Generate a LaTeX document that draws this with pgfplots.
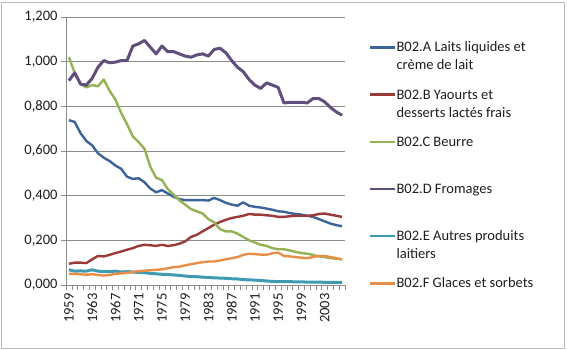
\documentclass[border=0pt]{standalone}
\usepackage{pgfplots}
\usepackage{pgfplotstable}
\pgfplotsset{compat=1.18}
\usepackage{fontspec}
\setmainfont{Carlito}
\definecolor{cA}{RGB}{59,100,152}
\definecolor{cB}{RGB}{155,58,56}
\definecolor{cC}{RGB}{148,178,84}
\definecolor{cD}{RGB}{96,78,124}
\definecolor{cE}{RGB}{62,155,178}
\definecolor{cF}{RGB}{232,142,70}
\definecolor{gridc}{RGB}{140,140,140}
\definecolor{txt}{RGB}{30,30,30}

\pgfplotstableread{
year A B C D E F
1959 0.738 0.095 1.020 0.915 0.068 0.050
1960 0.730 0.100 0.950 0.950 0.062 0.050
1961 0.680 0.100 0.900 0.900 0.063 0.048
1962 0.645 0.098 0.885 0.895 0.062 0.046
1963 0.625 0.115 0.895 0.925 0.068 0.048
1964 0.590 0.130 0.890 0.975 0.062 0.045
1965 0.570 0.128 0.920 1.005 0.060 0.042
1966 0.555 0.135 0.870 0.995 0.060 0.045
1967 0.535 0.143 0.830 0.998 0.062 0.050
1968 0.520 0.150 0.770 1.005 0.058 0.052
1969 0.485 0.158 0.720 1.005 0.060 0.055
1970 0.475 0.165 0.665 1.070 0.058 0.058
1971 0.478 0.175 0.640 1.080 0.056 0.062
1972 0.460 0.180 0.610 1.095 0.055 0.064
1973 0.432 0.178 0.530 1.065 0.052 0.066
1974 0.415 0.175 0.480 1.035 0.050 0.068
1975 0.425 0.180 0.470 1.070 0.048 0.070
1976 0.410 0.175 0.430 1.045 0.047 0.075
1977 0.395 0.178 0.405 1.045 0.045 0.080
1978 0.385 0.185 0.380 1.035 0.043 0.082
1979 0.380 0.195 0.360 1.025 0.040 0.088
1980 0.380 0.215 0.340 1.020 0.038 0.093
1981 0.380 0.225 0.330 1.030 0.037 0.098
1982 0.380 0.240 0.320 1.035 0.035 0.102
1983 0.378 0.255 0.295 1.025 0.034 0.105
1984 0.390 0.270 0.280 1.055 0.032 0.105
1985 0.380 0.282 0.250 1.060 0.031 0.110
1986 0.368 0.292 0.240 1.040 0.030 0.115
1987 0.360 0.300 0.240 1.005 0.028 0.120
1988 0.355 0.305 0.230 0.975 0.027 0.125
1989 0.370 0.310 0.215 0.955 0.024 0.135
1990 0.355 0.318 0.200 0.920 0.023 0.140
1991 0.350 0.315 0.190 0.895 0.022 0.138
1992 0.347 0.315 0.180 0.880 0.020 0.136
1993 0.342 0.312 0.175 0.905 0.018 0.135
1994 0.337 0.310 0.165 0.895 0.016 0.142
1995 0.330 0.305 0.160 0.885 0.015 0.145
1996 0.328 0.305 0.160 0.815 0.015 0.130
1997 0.322 0.308 0.155 0.818 0.015 0.128
1998 0.318 0.310 0.148 0.818 0.014 0.125
1999 0.315 0.310 0.143 0.818 0.014 0.122
2000 0.310 0.310 0.140 0.815 0.013 0.120
2001 0.305 0.312 0.135 0.835 0.013 0.125
2002 0.295 0.318 0.128 0.835 0.013 0.130
2003 0.285 0.320 0.125 0.820 0.012 0.130
2004 0.275 0.315 0.120 0.795 0.012 0.125
2005 0.268 0.310 0.118 0.775 0.012 0.120
2006 0.263 0.305 0.115 0.760 0.012 0.115
}\datatable

\newcommand{\lent}[1]{\parbox[t]{165pt}{\raggedright #1}}

\begin{document}
\begin{tikzpicture}
\path[use as bounding box] (0pt,0pt) rectangle (567pt,350pt);
\draw[gray!55, line width=0.8pt] (1pt,2pt) rectangle (564pt,348pt);
\begin{axis}[
  at={(66pt,65pt)}, anchor=south west,
  scale only axis, width=279pt, height=268pt,
  xmin=1958.5, xmax=2006.5, ymin=0, ymax=1.2,
  axis x line=bottom, axis y line=left,
  axis line style={-, gridc, line width=0.8pt},
  xtick={1959,1963,...,2003},
  minor xtick={1958.5,1959.5,...,2006.5},
  ytick={0,0.2,...,1.2},
  ymajorgrids, grid style={gridc, line width=0.8pt},
  tick align=outside,
  major x tick style={draw=none},
  minor x tick style={gridc, line width=0.6pt},
  minor tick length=5pt,
  major y tick style={gridc, line width=0.8pt},
  major tick length=5pt,
  /pgf/number format/assume math mode=true,
  xticklabel style={/pgf/number format/1000 sep={}, rotate=90, anchor=east},
  yticklabel style={/pgf/number format/fixed, /pgf/number format/fixed zerofill, /pgf/number format/precision=3, /pgf/number format/use comma},
  tick label style={font=\fontsize{14.5}{17}\selectfont, text=txt},
  legend style={at={(1.075,0.919)}, anchor=north west, draw=none, fill=none,
    font=\fontsize{14.5}{18}\selectfont, text=txt, row sep=32.2pt,
    cells={anchor=base west},
    nodes={inner sep=0pt, text height=11pt, text depth=4pt}},
  legend image code/.code={\draw[#1, line width=2.4pt] (0pt,4.5pt) -- (25pt,4.5pt);},
]
\addplot[cA, no marks, line width=2.4pt, line join=round] table[x=year, y=A] {\datatable};
\addlegendentry{\lent{B02.A Laits liquides et\\crème de lait}}
\addplot[cB, no marks, line width=2.4pt, line join=round] table[x=year, y=B] {\datatable};
\addlegendentry{\lent{B02.B Yaourts et\\desserts lactés frais}}
\addplot[cC, no marks, line width=2.4pt, line join=round] table[x=year, y=C] {\datatable};
\addlegendentry{\lent{B02.C Beurre}}
\addplot[cD, no marks, line width=3pt, line join=round] table[x=year, y=D] {\datatable};
\addlegendentry{\lent{B02.D Fromages}}
\addplot[cE, no marks, line width=3pt, line join=round] table[x=year, y=E] {\datatable};
\addlegendentry{\lent{B02.E Autres produits\\laitiers}}
\addplot[cF, no marks, line width=2.4pt, line join=round] table[x=year, y=F] {\datatable};
\addlegendentry{\lent{B02.F Glaces et sorbets}}
\end{axis}
\end{tikzpicture}
\end{document}
